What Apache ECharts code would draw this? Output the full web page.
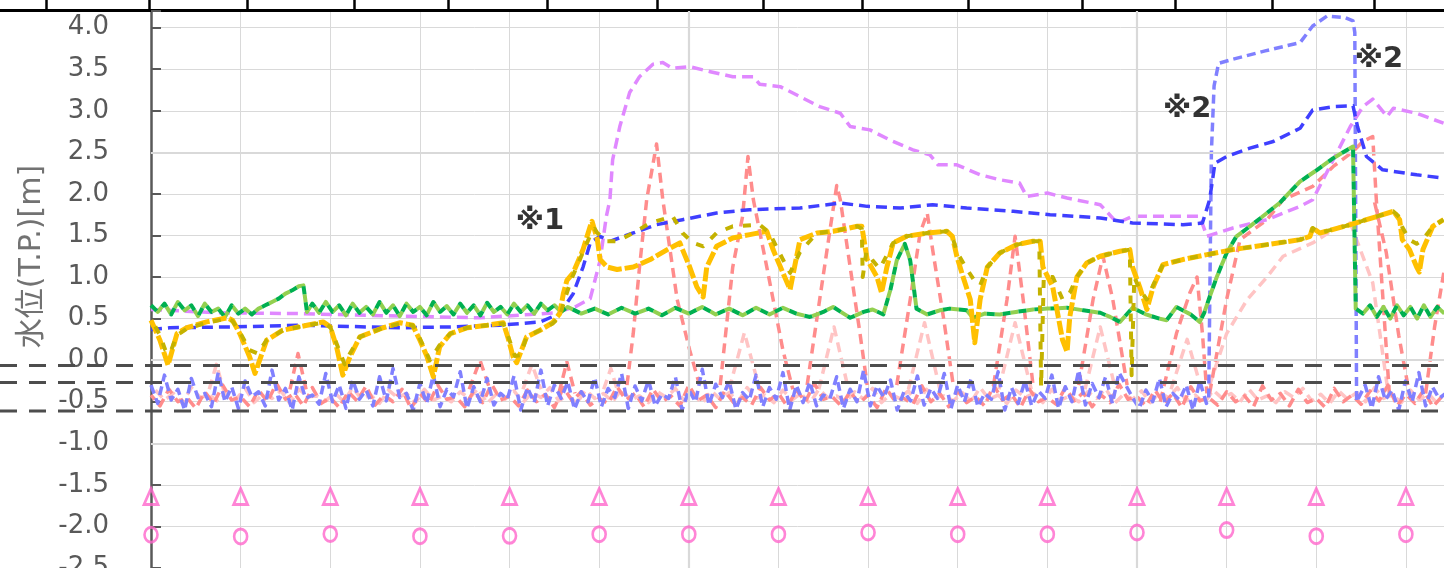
<!DOCTYPE html>
<html><head><meta charset="utf-8">
<script src="https://cdn.jsdelivr.net/npm/echarts@6/dist/echarts.min.js"></script>
<style>html,body{margin:0;padding:0;background:#fff}#c{width:1444px;height:568px}</style>
</head><body><div id="c"></div><script>
// ---- data (x in tenths of a grid interval, y in m) ----
const yAxisName = '水位(T.P.)[m]';
const refLevels = [-0.065, -0.27, -0.61];
const heavyGridY = [2.5, 0.0, -1.0];
const heavyGridX = [60, 110];
const topTicks = [46, 149, 247, 354, 448, 547, 657, 763, 862, 968, 1082, 1175, 1272, 1374];
const markerX = [0,10,20,30,40,50,60,70,80,90,100,110,120,130,140];
const triangleY = [-1.64,-1.64,-1.64,-1.64,-1.64,-1.64,-1.64,-1.64,-1.64,-1.64,-1.64,-1.64,-1.64,-1.64,-1.64];
const circleY = [-2.10,-2.12,-2.09,-2.117,-2.113,-2.093,-2.093,-2.093,-2.073,-2.093,-2.093,-2.073,-2.044,-2.117,-2.093];
const notes = [['※1',43.4,1.666],['※2',115.6,3.016],['※2',137.0,3.618]];

const purple = [[0,0.61],[7.4,0.57],[16.6,0.56],[27.8,0.53],[36.7,0.51],[42.3,0.55],[45.1,0.57],[47.3,0.64],[49,0.74],[50.1,1.2],[50.8,1.73],[51.2,1.93],[51.5,2.41],[52.3,2.81],[53.4,3.22],[54.5,3.41],[56,3.56],[57.1,3.58],[58.2,3.51],[60.1,3.53],[62.4,3.47],[64.9,3.41],[67.2,3.41],[67.9,3.32],[70.2,3.29],[72.4,3.17],[74.6,3.05],[76.9,2.97],[78,2.81],[80.2,2.77],[82.4,2.65],[85,2.53],[86.9,2.47],[87.8,2.35],[89.9,2.35],[92.5,2.23],[94.7,2.17],[96.9,2.13],[97.7,1.97],[100,2.01],[102.2,1.95],[105.9,1.87],[107.8,1.65],[109.5,1.73],[113.3,1.73],[117,1.73],[117.8,1.49],[120.7,1.59],[124.5,1.69],[128.2,1.85],[129.6,1.93],[131.9,2.41],[133.8,2.81],[135.2,3.05],[136.3,3.14],[137.9,2.93],[138.6,3.03],[141.2,2.97],[144.2,2.85]];

const blue = [[0,0.37],[2.1,0.39],[9.1,0.40],[16.6,0.42],[27.8,0.39],[33.4,0.40],[38.9,0.42],[43.4,0.46],[45.6,0.56],[47.1,0.80],[48.2,1.12],[49,1.41],[50.1,1.49],[51.2,1.43],[53.8,1.53],[56.4,1.63],[59.3,1.69],[63.1,1.77],[66.8,1.81],[72.4,1.83],[76.9,1.89],[79.9,1.85],[83.6,1.83],[87.2,1.87],[91,1.83],[96.2,1.79],[100.3,1.75],[105.9,1.71],[109.5,1.65],[115.1,1.63],[117.3,1.65],[118.1,1.93],[118.7,2.37],[120,2.45],[122.6,2.55],[125.2,2.63],[128.2,2.79],[129.6,3.01],[131.9,3.05],[134.1,3.06],[134.6,2.81],[135.6,2.45],[137.4,2.29],[141.2,2.23],[144.2,2.19]];

const lightBlueLow1 = [-0.30,-0.52,-0.18,-0.48,-0.35,-0.60,-0.22,-0.45,-0.40,-0.56,
-0.15,-0.50,-0.32,-0.58,-0.25,-0.44,-0.38,-0.55,-0.12,-0.48,
-0.34,-0.60,-0.20,-0.46,-0.42,-0.53,-0.16,-0.50,-0.30,-0.58,
-0.24,-0.47,-0.36,-0.55,-0.20,-0.49,-0.10,-0.45,-0.40,-0.60,
-0.28,-0.52,-0.18,-0.56,-0.35,-0.44,-0.14,-0.58,-0.32,-0.50,
-0.22,-0.54,-0.40,-0.47,-0.19,-0.60,-0.33,-0.51,-0.12,-0.55,
-0.30,-0.46,-0.26,-0.59,-0.38,-0.50,-0.21,-0.56,-0.34,-0.45,
-0.16,-0.58,-0.31,-0.49,-0.24,-0.55,-0.41,-0.46,-0.20,-0.60,
-0.36,-0.50,-0.11,-0.54,-0.29,-0.45,-0.25,-0.59,-0.39,-0.48,
-0.18,-0.56,-0.33,-0.47,-0.15,-0.60,-0.30,-0.51,-0.26,-0.55,
-0.42,-0.46,-0.20,-0.58,-0.35,-0.50,-0.12,-0.55,-0.31,-0.45,
-0.24,-0.60,-0.38,-0.49,-0.19,-0.54,-0.34,-0.46,-0.16,-0.58,
-0.30,-0.50,-0.22,-0.56,-0.40,-0.47,-0.14,-0.60,-0.33,-0.52,
-0.25,-0.55,-0.37,-0.46,-0.18,-0.58,-0.32,-0.50,-0.12,-0.54,
-0.28,-0.45,-0.20,-0.52,-0.15,-0.30,-0.45,-0.58,-0.36,-0.50,
-0.22,-0.56,-0.40,-0.48,-0.30,-0.60,-0.25,-0.52];
const lightBlueHigh = [[118.0,-0.45],[118.3,2.5],[118.6,3.3],[119.1,3.57],[120.7,3.62],[124.3,3.72],[128.2,3.82],[129.6,4.02],[131.2,4.14],[133.2,4.12],[134.1,4.08],[134.3,3.94],[134.5,-0.5]];
const lightBlueLow2 = [-0.52,-0.30,-0.58,-0.20,-0.48,-0.36,-0.60,-0.25,-0.50,-0.15,-0.55,-0.32,-0.46,-0.40];

const green = [[0,0.66],[0.75,0.58],[1.5,0.68],[2.25,0.55],[3,0.7],[3.75,0.6],[4.5,0.66],[5.25,0.53],[6,0.68],[6.75,0.58],[7.5,0.62],[8.25,0.52],[9,0.66],[9.75,0.56],[10.5,0.62],[11.25,0.55],[12,0.62],[12.75,0.66],[13.5,0.7],[14.25,0.74],[15,0.8],[15.75,0.84],[16.5,0.89],[17,0.9],[17.4,0.58],[18,0.68],[18.75,0.57],[19.5,0.7],[20.25,0.58],[21,0.66],[21.75,0.54],[22.5,0.68],[23.25,0.57],[24,0.64],[24.75,0.55],[25.5,0.7],[26.25,0.57],[27,0.66],[27.75,0.53],[28.5,0.68],[29.25,0.58],[30,0.64],[30.75,0.54],[31.5,0.7],[32.25,0.58],[33,0.65],[33.75,0.55],[34.5,0.68],[35.25,0.57],[36,0.66],[36.75,0.54],[37.5,0.69],[38.25,0.58],[39,0.64],[39.75,0.55],[40.5,0.68],[41.25,0.58],[42,0.66],[42.75,0.56],[43.5,0.68],[44.25,0.6],[45,0.66],[45.75,0.58],[46.5,0.64],[48,0.56],[49.5,0.62],[51,0.55],[52.5,0.63],[54,0.56],[55.5,0.62],[57,0.54],[58.5,0.63],[60,0.56],[61.5,0.64],[63,0.55],[64.5,0.62],[66,0.54],[67.5,0.63],[69,0.55],[70.5,0.63],[72,0.56],[73.5,0.52],[75,0.58],[76.1,0.64],[78,0.51],[79.5,0.58],[80.5,0.61],[81.7,0.55],[82.5,0.85],[83.2,1.2],[84.1,1.4],[84.7,1.2],[85.4,0.62],[86.6,0.55],[88,0.6],[89.1,0.62],[91,0.6],[91.7,0.51],[93,0.56],[94.7,0.55],[96.5,0.58],[98.4,0.61],[100,0.62],[102.2,0.63],[104,0.6],[105.9,0.57],[107,0.52],[108.1,0.46],[109.5,0.63],[111,0.55],[112.5,0.5],[113.3,0.48],[114.4,0.64],[116,0.55],[117,0.46],[117.5,0.57],[118.1,0.76],[118.9,1.0],[120,1.29],[121.1,1.49],[122.6,1.61],[124.5,1.77],[125.9,1.89],[128.2,2.15],[130.1,2.29],[131.9,2.43],[134.1,2.57],[134.4,0.62],[135.2,0.56],[136,0.66],[136.75,0.52],[137.5,0.64],[138.25,0.5],[139,0.66],[139.75,0.54],[140.5,0.64],[141.25,0.5],[142,0.66],[142.75,0.52],[143.5,0.64],[144.3,0.56]];

const orange = [[0,0.48],[1,0.24],[1.6,0.04],[1.9,-0.06],[2.9,0.32],[4,0.39],[6.2,0.46],[8.5,0.51],[9.1,0.48],[9.9,0.32],[11,0.04],[11.6,-0.16],[12.9,0.24],[14.7,0.36],[17.4,0.42],[19.2,0.46],[20,0.4],[20.7,0.16],[21.4,-0.18],[22.2,0.04],[23.3,0.28],[25.9,0.39],[27.8,0.45],[29.2,0.42],[30,0.24],[30.8,0.04],[31.5,-0.2],[32.2,0.16],[33.4,0.32],[35.3,0.39],[37.5,0.42],[39.3,0.45],[39.8,0.28],[40.4,0.04],[40.8,-0.03],[41.9,0.28],[43.4,0.36],[44.8,0.45],[45.6,0.56],[46,0.8],[46.4,0.96],[47.1,1.05],[48.2,1.33],[49,1.61],[49.2,1.67],[49.8,1.45],[50.1,1.21],[50.9,1.12],[52,1.09],[53.8,1.12],[55.7,1.21],[57.6,1.33],[59,1.41],[59.3,1.33],[60.1,1.12],[60.9,0.88],[61.6,0.76],[62,1.12],[63.1,1.37],[64.9,1.47],[66.8,1.51],[68.7,1.55],[69.4,1.33],[70.5,1.05],[71.3,0.85],[72.4,1.45],[74.3,1.53],[76.1,1.55],[78.8,1.61],[79.3,1.61],[79.9,1.21],[81,1.0],[81.5,0.81],[82.1,1.12],[82.8,1.41],[84.3,1.49],[86.6,1.53],[88.8,1.55],[89.4,1.49],[89.9,1.25],[90.6,1.0],[91.4,0.73],[91.9,0.21],[92.5,0.73],[93.3,1.12],[94.7,1.29],[96.6,1.39],[98.4,1.43],[99.2,1.43],[99.5,1.12],[100.6,0.88],[101.7,0.24],[102.2,0.1],[102.5,0.52],[103.3,1.0],[104.4,1.17],[105.9,1.25],[108.1,1.31],[109.2,1.33],[109.5,1.12],[110.3,0.88],[111.1,0.61],[111.8,0.88],[112.9,1.15],[115.1,1.21],[117.8,1.27],[120.7,1.33],[124.5,1.39],[128.2,1.45],[129.3,1.49],[129.6,1.59],[130.4,1.53],[133.8,1.63],[135.6,1.69],[138.6,1.79],[139.3,1.69],[139.6,1.45],[140.4,1.33],[141.2,1.12],[141.5,1.06],[141.9,1.33],[143,1.61],[144.2,1.69]];

const olive = [[0,0.5],[1,0.3],[1.6,0.12],[2.1,0.08],[2.9,0.3],[4,0.38],[6.2,0.45],[8.5,0.5],[9.1,0.47],[9.9,0.34],[11,0.12],[11.9,0.08],[12.9,0.24],[14.7,0.36],[17.4,0.42],[19.2,0.45],[20,0.4],[20.7,0.2],[21.6,-0.05],[22.2,0.08],[23.3,0.28],[25.9,0.39],[27.8,0.44],[29.2,0.42],[30,0.26],[31.1,0.0],[32.2,0.18],[33.4,0.32],[35.3,0.39],[37.5,0.42],[39.3,0.44],[39.8,0.3],[40.6,0.05],[41.2,0.06],[41.9,0.28],[43.4,0.36],[44.8,0.44],[45.6,0.52],[46.2,0.75],[47,1.0],[48.2,1.3],[49,1.5],[49.5,1.58],[49.8,1.53],[50.9,1.43],[52,1.43],[53.8,1.53],[55.7,1.65],[58.2,1.73],[59.3,1.53],[60.5,1.41],[61.6,1.37],[63.1,1.53],[64.9,1.61],[67.9,1.63],[69,1.53],[70.5,1.21],[71.3,1.05],[72.4,1.3],[74.3,1.53],[76.1,1.55],[78.8,1.61],[79.3,1.58],[79.4,1.0],[79.8,1.3],[80.5,1.2],[81.3,1.1],[82.8,1.41],[84.3,1.49],[86.6,1.53],[88.8,1.55],[89.4,1.49],[89.9,1.3],[91,1.1],[91.9,0.95],[92.5,0.9],[93.3,1.12],[94.7,1.29],[96.6,1.39],[98.4,1.43],[99.1,1.43],[99.3,-0.32],[99.6,1.0],[100.6,1.0],[101.7,0.73],[102.5,0.81],[103.3,1.0],[104.4,1.17],[105.9,1.25],[108.1,1.31],[109.2,1.33],[109.4,-0.18],[109.7,1.0],[110.3,0.85],[111.1,0.73],[111.8,0.9],[112.9,1.15],[115.1,1.21],[117.8,1.27],[120.7,1.33],[124.5,1.39],[128.2,1.45],[129.3,1.49],[129.6,1.59],[130.4,1.53],[133.8,1.63],[135.6,1.69],[138.6,1.79],[139.3,1.72],[139.6,1.6],[140.4,1.45],[141.2,1.4],[141.9,1.45],[143,1.61],[144.2,1.69]];

const salmonLow = [-0.42,-0.55,-0.35,-0.50,-0.45,-0.58,-0.38,-0.52,-0.30,-0.48,
-0.44,-0.56,-0.36,-0.50,-0.28,-0.47,-0.40,-0.55,-0.33,-0.52,
-0.45,-0.57,-0.38,-0.49,-0.31,-0.54,-0.42,-0.50,-0.35,-0.58,
-0.40,-0.52,-0.30,-0.47,-0.44,-0.56,-0.37,-0.51,-0.29,-0.48,
-0.43,-0.55,-0.36,-0.50,-0.41,-0.57,-0.33,-0.49,-0.38,-0.54,
-0.46,-0.52,-0.32,-0.48,-0.40,-0.56,-0.35,-0.50,-0.43,-0.55,
-0.30,-0.49,-0.42,-0.57,-0.37,-0.51,-0.45,-0.54,-0.33,-0.48,
-0.40,-0.56,-0.36,-0.50,-0.28,-0.47,-0.44,-0.55,-0.38,-0.52,
-0.42,-0.57,-0.34,-0.49,-0.46,-0.53,-0.31,-0.50,-0.40,-0.56,
-0.37,-0.51,-0.44,-0.55,-0.30,-0.48,-0.41,-0.57,-0.35,-0.50,
-0.45,-0.53,-0.33,-0.49,-0.39,-0.56,-0.42,-0.51,-0.29,-0.47,
-0.44,-0.55,-0.36,-0.52,-0.40,-0.57,-0.32,-0.49,-0.45,-0.54,
-0.38,-0.50,-0.43,-0.56,-0.31,-0.48,-0.40,-0.55,-0.35,-0.51,
-0.46,-0.57,-0.34,-0.50,-0.42,-0.53,-0.37,-0.49,-0.30,-0.55,
-0.41,-0.52,-0.36,-0.56,-0.44];
const salmonPeaks = [[15.5,-0.35],[16.4,0.08],[17.3,-0.35],null,[35.5,-0.35],[36.7,0.0],[37.8,-0.35],null,[45.5,-0.4],[46.4,-0.02],[47.3,-0.4],null,
[53.1,-0.3],[53.8,0.32],[54.5,1.12],[55.3,1.93],[56.4,2.6],[57.1,1.93],[58.7,0.73],[60.1,0.12],[61.2,-0.3],null,
[63.5,-0.3],[64.9,1.12],[66,1.73],[66.6,2.45],[67.2,1.93],[68.7,1.12],[70.5,0.12],[71.6,-0.35],null,
[73.2,-0.3],[74.6,0.73],[75.7,1.53],[76.5,2.1],[76.9,1.93],[78,1.12],[79.1,0.32],[79.9,-0.3],null,
[83.2,-0.3],[84.7,0.73],[85.8,1.53],[86.6,1.77],[87.2,1.33],[88.4,0.52],[89.5,-0.3],null,
[94,-0.3],[95.5,0.73],[96.4,1.49],[97.3,0.73],[98.4,-0.3],null,
[103.5,-0.3],[105.1,0.73],[106.2,1.25],[107.3,0.73],[108.9,-0.3],null,
[112.6,-0.5],[114.4,0.32],[115.9,0.81],[116.7,1.0],[117.3,0.32],[117.8,-0.4],null,
[118.1,-0.4],[120,0.73],[121.5,1.45],[124.5,1.69],[126.3,1.93],[129.6,2.09],[131.9,2.33],[134.1,2.51],[135.2,2.63],[136.3,2.69],[136.7,1.93],[137.4,0.8],[138.2,-0.48],null,
[136.5,1.9],[137.8,1.3],[139.2,0.3],[140.3,-0.35],null,
[142.2,-0.4],[143.2,0.4],[144.3,1.1]];

const pinkLow = [-0.36,-0.48,-0.40,-0.52,-0.33,-0.45,-0.42,-0.50,-0.38,-0.47,
-0.34,-0.51,-0.41,-0.46,-0.37,-0.52,-0.35,-0.44,-0.43,-0.49,
-0.39,-0.50,-0.33,-0.47,-0.42,-0.52,-0.36,-0.45,-0.40,-0.51,
-0.35,-0.48,-0.43,-0.50,-0.38,-0.46,-0.34,-0.52,-0.41,-0.47,
-0.37,-0.51,-0.39,-0.45,-0.33,-0.49,-0.42,-0.52,-0.36,-0.46,
-0.40,-0.50,-0.35,-0.48,-0.43,-0.51,-0.38,-0.45,-0.34,-0.49,
-0.41,-0.52,-0.37,-0.47,-0.39,-0.50,-0.33,-0.46,-0.42,-0.51,
-0.36,-0.48,-0.40,-0.52,-0.35,-0.45,-0.43,-0.50,-0.38,-0.47,
-0.34,-0.51,-0.41,-0.46,-0.37,-0.52,-0.35,-0.44,-0.43,-0.49,
-0.39,-0.50,-0.33,-0.47,-0.42,-0.52,-0.36,-0.45,-0.40,-0.51,
-0.35,-0.48,-0.43,-0.50,-0.38,-0.46,-0.34,-0.52,-0.41,-0.47,
-0.37,-0.51,-0.39,-0.45,-0.33,-0.49,-0.42,-0.52,-0.36,-0.46,
-0.40,-0.50,-0.35,-0.48,-0.43,-0.51,-0.38,-0.45,-0.34,-0.49,
-0.41,-0.52,-0.37,-0.47,-0.39,-0.50,-0.33,-0.46,-0.42,-0.51,
-0.36,-0.48,-0.40,-0.52];
const pinkPeaks = [[6.5,-0.35],[7.3,-0.05],[8.2,-0.4],null,[41.5,-0.35],[42.5,-0.05],[43.5,-0.35],null,[50.5,-0.35],[51.3,-0.1],[52,-0.35],null,
[64.5,-0.35],[66.2,0.33],[67.9,-0.35],null,[74.5,-0.35],[76.2,0.4],[77.8,-0.35],null,[84.5,-0.35],[86.3,0.45],[88,-0.35],null,
[94.6,-0.35],[96.4,0.45],[98.2,-0.35],null,[104.2,-0.35],[105.9,0.4],[107.6,-0.35],null,[113.8,-0.35],[115.6,0.25],[117.2,-0.35],null,
[118.1,-0.3],[120,0.32],[122.3,0.73],[124.5,1.0],[126.3,1.25],[129.6,1.41],[131.9,1.57],[133.8,1.65],[136.3,0.93],[137.1,0.32],[137.9,-0.3]];

// ---- build ----
const gapify = a => a.map(p => p === null ? ['-','-'] : p);
const lightBlue = lightBlueLow1.map((v,i)=>[i*0.75, v]).concat(lightBlueHigh, lightBlueLow2.map((v,i)=>[134.7+i*0.75, v]));
const salmonBase = salmonLow.map((v,i)=>[i, v]);
const pinkBase = pinkLow.map((v,i)=>[i+0.5, v]);

function line(name, data, color, width, dash, offset, z) {
  return {name, type:'line', data, xAxisIndex:0, yAxisIndex:0, showSymbol:false, symbol:'none',
    connectNulls:false, z:z||2, silent:true,
    lineStyle:{color, width, type:dash, dashOffset:offset||0, cap:'butt', join:'round'}};
}

const chart = echarts.init(document.getElementById('c'), null, {renderer:'canvas'});
const fmt = v => Math.abs(v*2 - Math.round(v*2)) < 1e-6 ? v.toFixed(1) : '';
chart.setOption({
  animation:false,
  backgroundColor:'#fff',
  grid:[
    {left:151, right:0, top:11, bottom:0, outerBoundsMode:'none', containLabel:false},
    {left:0, right:0, top:11, bottom:0, outerBoundsMode:'none', containLabel:false},
    {left:0, right:0, top:-40, height:50, outerBoundsMode:'none', containLabel:false}
  ],
  xAxis:[
    {type:'value', gridIndex:0, min:0, max:144.25, interval:10,
      axisLine:{show:false}, axisTick:{show:false}, axisLabel:{show:false},
      splitLine:{show:true, lineStyle:{color:'#d9d9d9', width:1}}},
    {type:'value', gridIndex:1, min:0, max:1, show:false},
    {type:'value', gridIndex:2, min:0, max:1444, position:'bottom',
      axisLine:{show:true, lineStyle:{color:'#000', width:3}},
      axisTick:{show:true, inside:true, length:10, customValues:topTicks, lineStyle:{color:'#000', width:2.5}},
      axisLabel:{show:false}, splitLine:{show:false}}
  ],
  yAxis:[
    {type:'value', gridIndex:0, min:-2.5, max:4.2, interval:0.5,
      name:yAxisName, nameLocation:'middle', nameRotate:90, nameGap:104,
      nameTextStyle:{fontFamily:'DejaVu Sans, "Noto Sans CJK JP"', fontSize:30, color:'#727272', padding:[0,0,0,66]},
      axisLine:{show:true, lineStyle:{color:'#595959', width:2.5}},
      axisTick:{show:true, inside:true, length:10, lineStyle:{color:'#595959', width:2}},
      axisLabel:{formatter:fmt, fontFamily:'DejaVu Sans', fontSize:26, color:'#595959', margin:42},
      splitLine:{show:true, lineStyle:{color:'#d9d9d9', width:1}}},
    {type:'value', gridIndex:1, min:-2.5, max:4.2, show:false},
    {type:'value', gridIndex:2, min:0, max:1, show:false}
  ],
  series:[
    {type:'line', xAxisIndex:0, yAxisIndex:0, data:[], z:0, silent:true,
      markLine:{silent:true, symbol:'none', label:{show:false}, animation:false,
        lineStyle:{color:'#d9d9d9', width:2.2, type:'solid'},
        data: heavyGridY.map(v=>({yAxis:v})).concat(heavyGridX.map(v=>({xAxis:v})))}},
    line('pinkBase', pinkBase, '#ffc4c4', 3.5, [10,6], 0, 1),
    line('pinkPeaks', gapify(pinkPeaks), '#ffc4c4', 3.5, [10,6], 0, 1),
    line('salmonBase', salmonBase, '#ff8c8c', 3.5, [10,6], 4, 2),
    line('salmonPeaks', gapify(salmonPeaks), '#ff8c8c', 3.5, [10,6], 0, 2),
    line('lightBlue', lightBlue, '#8080ff', 3.5, [9,5], 0, 3),
    line('purple', purple, '#e088ff', 3.5, [11,6], 0, 4),
    line('blue', blue, '#3f3fff', 3.5, [11,6], 0, 5),
    line('greenLight', green, '#92d050', 4, [8,8], 8, 6),
    line('greenDark', green, '#00b050', 4, [8,8], 0, 6),
    line('orange', orange, '#ffc000', 5, [14,3], 0, 7),
    line('olive', olive, '#c4b200', 4, [8,10], 9, 7),
    {type:'line', xAxisIndex:1, yAxisIndex:1, z:9, silent:true, showSymbol:false, symbol:'none',
      data:[[0,refLevels[0]],[1,refLevels[0]],['-','-'],[0,refLevels[1]],[1,refLevels[1]],['-','-'],[0,refLevels[2]],[1,refLevels[2]]],
      lineStyle:{color:'#4d4d4d', width:3, type:[17,12]}},
    {type:'scatter', xAxisIndex:0, yAxisIndex:0, z:10, silent:true, symbol:'triangle', symbolSize:[14,16],
      data: markerX.map((x,i)=>[x, triangleY[i]]),
      itemStyle:{color:'rgba(0,0,0,0)', borderColor:'#ff66cc', borderWidth:2.8}},
    {type:'scatter', xAxisIndex:0, yAxisIndex:0, z:10, silent:true, symbol:'circle', symbolSize:[13,15],
      data: markerX.map((x,i)=>[x, circleY[i]]),
      itemStyle:{color:'rgba(0,0,0,0)', borderColor:'#ff66cc', borderWidth:2.8}},
    {type:'scatter', xAxisIndex:0, yAxisIndex:0, z:11, silent:true, symbolSize:1,
      itemStyle:{color:'rgba(0,0,0,0)'},
      data: notes.map(n=>({name:n[0], value:[n[1], n[2]]})),
      label:{show:true, position:'inside', formatter:'{b}', fontSize:29, fontWeight:'bold', color:'#000',
        fontFamily:'"DejaVu Sans", "Noto Sans CJK JP"'}},
    {type:'scatter', xAxisIndex:2, yAxisIndex:2, data:[], silent:true}
  ]
});
</script></body></html>
